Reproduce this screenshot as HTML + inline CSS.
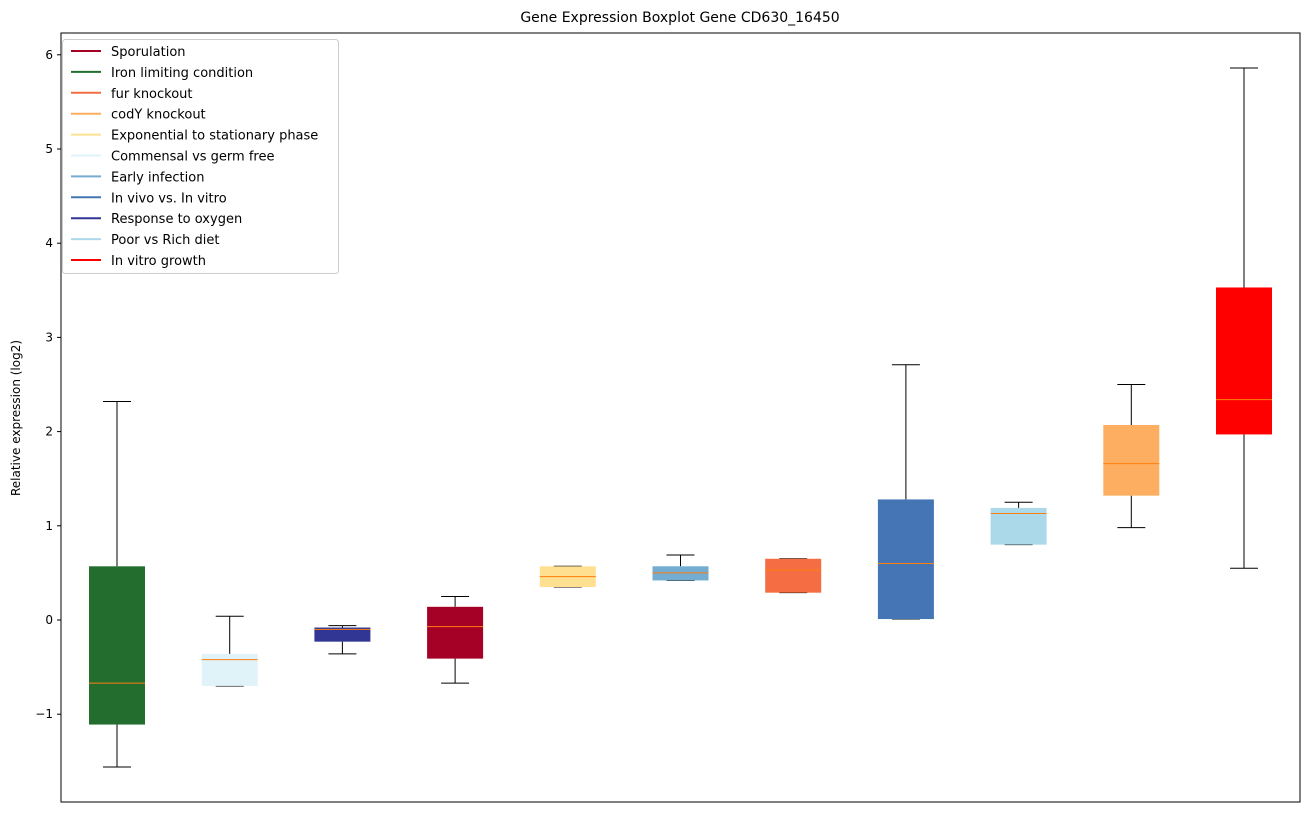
<!DOCTYPE html>
<html><head><meta charset="utf-8"><style>
body{margin:0;background:#fff;width:1309px;height:812px;overflow:hidden}
svg text{font-family:"DejaVu Sans","Liberation Sans",sans-serif;fill:#000}
</style></head><body>
<svg id="c" width="1309" height="812"></svg>
<script>
const categories=["Iron limiting condition","Commensal vs germ free","Response to oxygen","Sporulation","Exponential to stationary phase","Early infection","fur knockout","In vivo vs. In vitro","Poor vs Rich diet","codY knockout","In vitro growth"];
const whiskerLow=[-1.56,-0.70,-0.36,-0.67,0.35,0.42,0.29,0.01,0.80,0.98,0.55];
const q1Values=[-1.11,-0.70,-0.23,-0.41,0.35,0.42,0.29,0.01,0.80,1.32,1.97];
const medianValues=[-0.67,-0.42,-0.10,-0.07,0.46,0.50,0.53,0.60,1.13,1.66,2.34];
const q3Values=[0.57,-0.36,-0.08,0.14,0.57,0.57,0.65,1.28,1.19,2.07,3.53];
const whiskerHigh=[2.32,0.04,-0.06,0.25,0.57,0.69,0.65,2.71,1.25,2.50,5.86];
const boxColors=["#236e2f","#e0f3f8","#313695","#a50026","#fee090","#74add1","#f46d43","#4575b4","#abd9e9","#fdae61","#ff0000"];
const yTicks=[-1,0,1,2,3,4,5,6];
const legendLabels=["Sporulation","Iron limiting condition","fur knockout","codY knockout","Exponential to stationary phase","Commensal vs germ free","Early infection","In vivo vs. In vitro","Response to oxygen","Poor vs Rich diet","In vitro growth"];
const legendColors=["#a50026","#236e2f","#f46d43","#fdae61","#fee090","#e0f3f8","#74add1","#4575b4","#313695","#abd9e9","#ff0000"];

const svg=document.getElementById('c');const NS='http://www.w3.org/2000/svg';
function mk(t,a,p){const e=document.createElementNS(NS,t);for(const k in a)e.setAttribute(k,a[k]);(p||svg).appendChild(e);return e;}
const L=61,R=1300,T=33,B=802;
const y=v=>620-94.2*v;
const x=i=>117+i*112.7;
const bw=56;
let t=mk('text',{x:680,y:22,'text-anchor':'middle','font-size':14});t.textContent='Gene Expression Boxplot Gene CD630_16450';


t=mk('text',{x:0,y:0,'text-anchor':'middle','font-size':12,transform:'translate(20,418) rotate(-90)'});t.textContent='Relative expression (log2)';


yTicks.forEach(v=>{
  mk('line',{x1:L-4,x2:L,y1:y(v),y2:y(v),stroke:'#000'});
  const tt=mk('text',{x:L-8,y:y(v)+4,'text-anchor':'end','font-size':12});tt.textContent=v<0?'\u2212'+(-v):String(v);
  
  
});
categories.forEach((c,i)=>{
  const g=mk('g',{});
  
  
  const cx=x(i);
  mk('line',{x1:cx,x2:cx,y1:y(whiskerLow[i]),y2:y(q1Values[i]),stroke:'#000'},g);
  mk('line',{x1:cx,x2:cx,y1:y(q3Values[i]),y2:y(whiskerHigh[i]),stroke:'#000'},g);
  mk('line',{x1:cx-14,x2:cx+14,y1:y(whiskerLow[i]),y2:y(whiskerLow[i]),stroke:'#000'},g);
  mk('line',{x1:cx-14,x2:cx+14,y1:y(whiskerHigh[i]),y2:y(whiskerHigh[i]),stroke:'#000'},g);
  mk('rect',{x:cx-bw/2,y:y(q3Values[i]),width:bw,height:Math.max(1,y(q1Values[i])-y(q3Values[i])),fill:boxColors[i]},g);
  mk('line',{x1:cx-bw/2,x2:cx+bw/2,y1:y(medianValues[i]),y2:y(medianValues[i]),stroke:'#ff7f0e','stroke-width':1},g);
});
mk('rect',{x:L,y:T,width:R-L,height:B-T,fill:'none',stroke:'#000'});
const lg=mk('g',{});


mk('rect',{x:62.5,y:39.5,width:276,height:234,rx:3,fill:'#fff',stroke:'#ccc'},lg);
legendLabels.forEach((l,i)=>{
  const yy=51+i*20.9;
  const e=mk('g',{},lg);
  
  
  mk('line',{x1:71,x2:101,y1:yy,y2:yy,stroke:legendColors[i],'stroke-width':2},e);
  const tt=mk('text',{x:111,y:yy+5,'font-size':13},e);tt.textContent=l;
});
</script>
</body></html>
